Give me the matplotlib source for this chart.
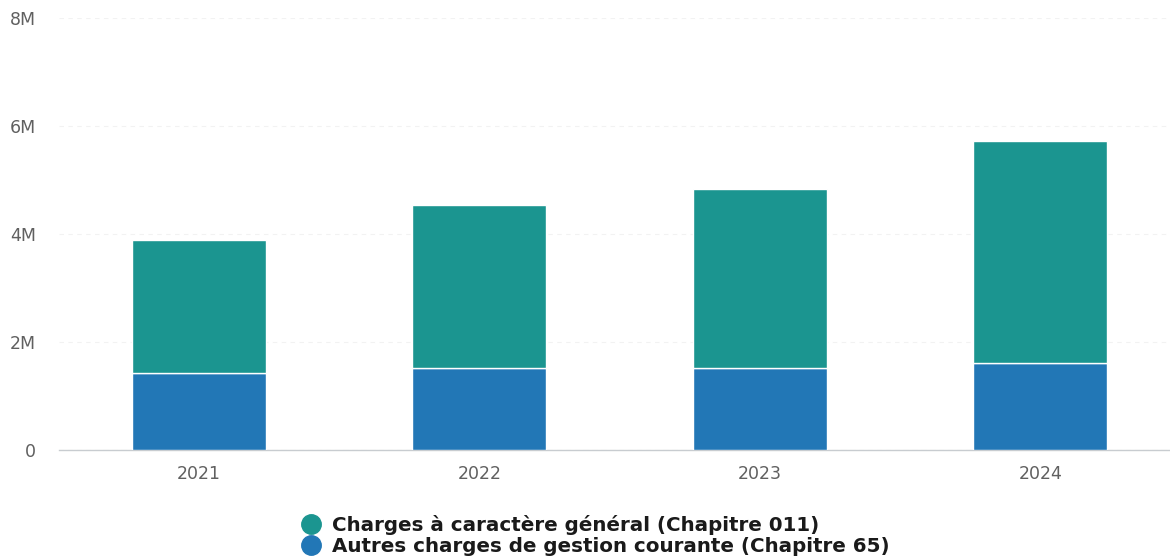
import matplotlib
matplotlib.use("Agg")
import matplotlib.pyplot as plt
from matplotlib.lines import Line2D
from matplotlib.ticker import FuncFormatter

years = ["2021", "2022", "2023", "2024"]
chap65 = [1.43e6, 1.51e6, 1.52e6, 1.61e6]
chap011 = [2.46e6, 3.03e6, 3.31e6, 4.11e6]
label011 = "Charges à caractère général (Chapitre 011)"
label65 = "Autres charges de gestion courante (Chapitre 65)"
yticks = [0, 2e6, 4e6, 6e6, 8e6]

c011 = "#1b9590"
c65 = "#2277b6"

fig = plt.figure(figsize=(11.70, 5.58), dpi=100)
ax = fig.add_axes([0.0502, 0.1935, 0.9498, 0.7742])

x = range(len(years))
ax.bar(x, chap65, width=0.478, color=c65, edgecolor="white", linewidth=1.0, zorder=3)
ax.bar(x, chap011, bottom=chap65, width=0.478, color=c011, edgecolor="white", linewidth=1.0, zorder=3)

ax.set_xlim(-0.5, 3.462)
ax.set_ylim(0, 8e6)
ax.set_yticks(yticks)
ax.yaxis.set_major_formatter(FuncFormatter(lambda v, p: "0" if v == 0 else f"{v/1e6:.0f}M"))
ax.set_xticks(list(x))
ax.set_xticklabels(years)
ax.tick_params(axis="both", length=0, colors="#606060", labelsize=12.5)
ax.tick_params(axis="y", pad=16.5)
ax.tick_params(axis="x", pad=11)
ax.grid(axis="y", color="#f2f2f2", linestyle=(0, (4, 4)), linewidth=0.8, zorder=0)
for s in ["top", "right", "left"]:
    ax.spines[s].set_visible(False)
ax.spines["bottom"].set_color("#c8ccd0")
ax.spines["bottom"].set_linewidth(1.0)

handles = [
    Line2D([], [], marker="o", linestyle="none", markersize=14, color=c011),
    Line2D([], [], marker="o", linestyle="none", markersize=14, color=c65),
]
fig.legend(handles, [label011, label65], loc="center", bbox_to_anchor=(0.5045, 0.041),
           frameon=False, ncol=1, handletextpad=0.05, labelspacing=0.1,
           prop={"size": 14.35, "weight": "bold"}, labelcolor="#1a1a1a")

fig.savefig("out.png", dpi=100)
